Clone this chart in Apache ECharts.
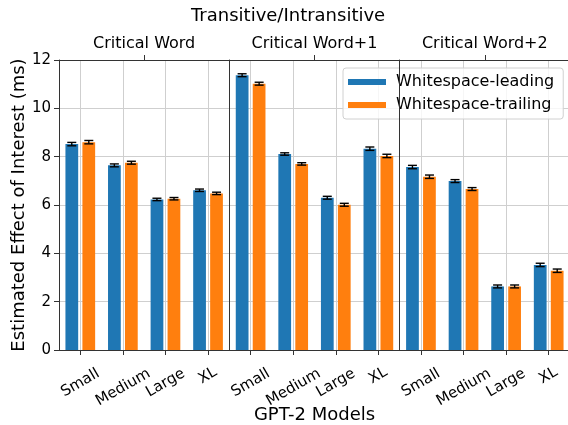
<!DOCTYPE html>
<html>
<head>
<meta charset="utf-8">
<script src="https://cdn.jsdelivr.net/npm/echarts@6/dist/echarts.min.js"></script>
<style>html,body{margin:0;padding:0;background:#fff;}#c{width:568px;height:425px;}</style>
</head>
<body>
<div id="c"></div>
<script>
const groups = ['Critical Word', 'Critical Word+1', 'Critical Word+2'];
const models = ['Small', 'Medium', 'Large', 'XL'];
const seriesNames = ['Whitespace-leading', 'Whitespace-trailing'];
const yTicks = [0, 2, 4, 6, 8, 10, 12];

// Whitespace-leading values per group
const leadingCW  = [8.52, 7.64, 6.23, 6.61];
const leadingCW1 = [11.37, 8.11, 6.30, 8.33];
const leadingCW2 = [7.57, 6.99, 2.63, 3.52];
// Whitespace-trailing values per group
const trailingCW  = [8.60, 7.75, 6.26, 6.48];
const trailingCW1 = [11.02, 7.70, 6.01, 8.03];
const trailingCW2 = [7.17, 6.66, 2.63, 3.28];
// error half-widths
const leadingErrCW  = [0.07, 0.06, 0.05, 0.05];
const leadingErrCW1 = [0.06, 0.05, 0.06, 0.07];
const leadingErrCW2 = [0.07, 0.06, 0.06, 0.07];
const trailingErrCW  = [0.07, 0.06, 0.05, 0.05];
const trailingErrCW1 = [0.06, 0.05, 0.06, 0.07];
const trailingErrCW2 = [0.07, 0.06, 0.06, 0.07];

const leading = [leadingCW, leadingCW1, leadingCW2];
const trailing = [trailingCW, trailingCW1, trailingCW2];
const leadingErr = [leadingErrCW, leadingErrCW1, leadingErrCW2];
const trailingErr = [trailingErrCW, trailingErrCW1, trailingErrCW2];

const FONT = 'DejaVu Sans';
const BLUE = '#1f77b4', ORANGE = '#ff7f0e';
const AX = '#333333', GRID = '#cfcfcf';

const plotLeft = 59, plotTop = 60, plotH = 290, subW = 170.33;

const chart = echarts.init(document.getElementById('c'), null, {renderer: 'canvas'});

function errRenderer(offset) {
  return function (params, api) {
    const i = api.value(0), v = api.value(1), e = api.value(2);
    const band = api.size([1, 0])[0];
    const top = api.coord([i, v + e]);
    const bot = api.coord([i, v - e]);
    const cx = top[0] + offset * band;
    const hw = 4.5;
    const st = {stroke: '#000', lineWidth: 1.4};
    return {type: 'group', children: [
      {type: 'line', shape: {x1: cx, y1: top[1], x2: cx, y2: bot[1]}, style: st},
      {type: 'line', shape: {x1: cx - hw, y1: top[1], x2: cx + hw, y2: top[1]}, style: st},
      {type: 'line', shape: {x1: cx - hw, y1: bot[1], x2: cx + hw, y2: bot[1]}, style: st}
    ]};
  };
}

const grids = [], xAxes = [], yAxes = [], series = [];
groups.forEach((g, k) => {
  grids.push({left: plotLeft + k * subW, top: plotTop, width: subW, height: plotH,
    containLabel: false, outerBoundsMode: 'none'});
  xAxes.push({
    type: 'category', gridIndex: k, data: models, position: 'bottom', boundaryGap: true,
    axisLine: {show: true, onZero: false, lineStyle: {color: AX, width: 1}},
    axisTick: {show: true, alignWithLabel: true, length: 5, lineStyle: {color: AX}},
    splitLine: {show: true, alignWithLabel: true, lineStyle: {color: GRID, width: 1}},
    axisLabel: {
      rotate: 30, align: 'center', verticalAlign: 'middle', margin: 33,
      fontFamily: FONT, fontSize: 15, color: '#000',
      formatter: v => '{' + v.toLowerCase() + '|' + v + '}',
      rich: {
        small: {fontFamily: FONT, fontSize: 15, color: '#000'},
        medium: {fontFamily: FONT, fontSize: 15, color: '#000', padding: [8, 4, 0, 0]},
        large: {fontFamily: FONT, fontSize: 15, color: '#000'},
        xl: {fontFamily: FONT, fontSize: 15, color: '#000', padding: [0, 0, 13, 7]}
      }
    },
    name: k === 1 ? 'GPT-2 Models' : '', nameLocation: 'middle', nameGap: 56,
    nameMoveOverlap: false,
    nameTextStyle: {fontFamily: FONT, fontSize: 18, color: '#000'}
  });
  xAxes.push({
    type: 'category', gridIndex: k, data: [g], position: 'top', boundaryGap: true,
    axisLine: {show: true, onZero: false, lineStyle: {color: AX, width: 1}},
    axisTick: {show: true, alignWithLabel: true, length: 5, lineStyle: {color: AX}},
    splitLine: {show: false},
    axisLabel: {margin: 8, fontFamily: FONT, fontSize: 16, color: '#000'}
  });
  yAxes.push({
    type: 'value', gridIndex: k, position: 'left', min: 0, max: 12, interval: 2,
    z: k === 2 ? 8 : 0,
    axisLine: {show: true, onZero: false, lineStyle: {color: AX, width: 1}},
    axisTick: {show: k === 0, length: 5, lineStyle: {color: AX}},
    axisLabel: {show: k === 0, margin: 8, fontFamily: FONT, fontSize: 15, color: '#000',
      formatter: v => (yTicks.indexOf(v) >= 0 ? String(v) : '')},
    splitLine: {show: k !== 2, lineStyle: {color: GRID, width: 1}},
    name: k === 0 ? 'Estimated Effect of Interest (ms)' : '', nameLocation: 'middle', nameGap: 31,
    nameMoveOverlap: false,
    nameTextStyle: {fontFamily: FONT, fontSize: 18, color: '#000'}
  });
  series.push({
    name: seriesNames[0], type: 'bar', xAxisIndex: 2 * k, yAxisIndex: k,
    data: leading[k], barWidth: 12.75, barGap: '33%',
    itemStyle: {color: BLUE}, z: 2
  });
  series.push({
    name: seriesNames[1], type: 'bar', xAxisIndex: 2 * k, yAxisIndex: k,
    data: trailing[k], barWidth: 12.75, barGap: '33%',
    itemStyle: {color: ORANGE}, z: 2
  });
  series.push({
    name: 'errL' + k, type: 'custom', xAxisIndex: 2 * k, yAxisIndex: k,
    renderItem: errRenderer(-0.2), encode: {x: 0, y: 1}, z: 3, silent: true,
    data: leading[k].map((v, i) => [i, v, leadingErr[k][i]])
  });
  series.push({
    name: 'errT' + k, type: 'custom', xAxisIndex: 2 * k, yAxisIndex: k,
    renderItem: errRenderer(0.2), encode: {x: 0, y: 1}, z: 3, silent: true,
    data: trailing[k].map((v, i) => [i, v, trailingErr[k][i]])
  });
});
// horizontal grid lines of subplot 3, kept below the legend
yAxes.push({
  type: 'value', gridIndex: 2, position: 'right', min: 0, max: 12, interval: 2, z: 0,
  axisLine: {show: false, onZero: false}, axisTick: {show: false}, axisLabel: {show: false},
  splitLine: {show: true, lineStyle: {color: GRID, width: 1}}
});

chart.setOption({
  animation: false,
  backgroundColor: '#fff',
  title: {
    text: 'Transitive/Intransitive', left: 191, top: 7, padding: 0,
    textStyle: {fontFamily: FONT, fontSize: 18, fontWeight: 'normal', color: '#000'}
  },
  legend: {
    data: seriesNames, orient: 'vertical', left: 343, top: 68,
    padding: [6, 9, 6, 5], itemGap: 7, itemWidth: 38, itemHeight: 6, icon: 'rect',
    backgroundColor: 'rgba(255,255,255,0.8)', borderColor: '#d0d0d0', borderWidth: 1, borderRadius: 3,
    textStyle: {fontFamily: FONT, fontSize: 16, color: '#000', padding: [0, 0, 0, 5]},
    z: 6
  },
  grid: grids, xAxis: xAxes, yAxis: yAxes, series: series
});
</script>
</body>
</html>
